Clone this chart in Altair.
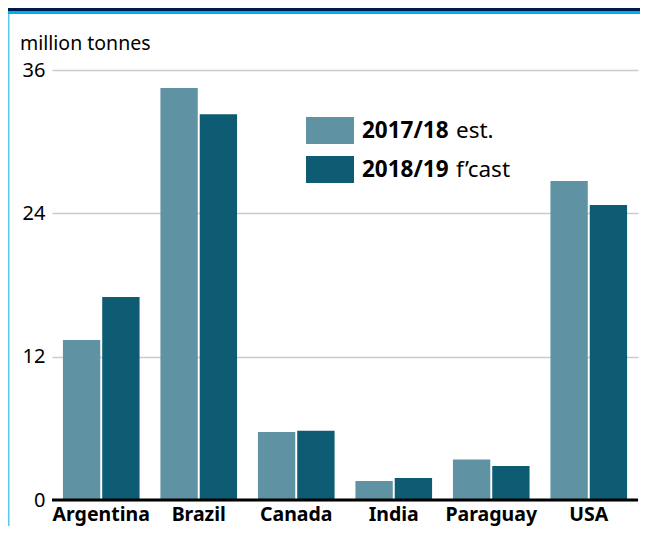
import altair as alt
import pandas as pd

countries = ["Argentina", "Brazil", "Canada", "India", "Paraguay", "USA"]
seasons = ["2017/18 est.", "2018/19 f’cast"]
v1718 = [13.4, 34.5, 5.7, 1.6, 3.4, 26.7]
v1819 = [17.0, 32.3, 5.8, 1.85, 2.85, 24.7]
y_ticks = [0, 12, 24, 36]
legend_bold = ["2017/18", "2018/19"]
legend_rest = ["est.", "f’cast"]
colors = ["#5f93a3", "#0d5c73"]
unit_label = "million tonnes"

FONT = "Noto Sans"
W, H = 586, 430
PAD = {"left": 44, "top": 62, "right": 2, "bottom": 26}

rows = []
for i, c in enumerate(countries):
    rows.append({"country": c, "season": seasons[0], "value": v1718[i]})
    rows.append({"country": c, "season": seasons[1], "value": v1819[i]})
df = pd.DataFrame(rows)

one = pd.DataFrame({"a": [0]})

x = alt.X(
    "country:N", sort=countries,
    scale=alt.Scale(paddingInner=0.214, paddingOuter=0.112),
    axis=alt.Axis(title=None, labelAngle=0, domain=False, ticks=False, labelPadding=5,
                  labelFont=FONT, labelFontWeight="bold", labelFontSize=19.5, labelColor="black"),
)
y = alt.Y(
    "value:Q", scale=alt.Scale(domain=[0, 36], nice=False),
    axis=alt.Axis(values=y_ticks, title=None, domain=False, ticks=False, grid=True,
                  gridColor="#cccccc", gridWidth=1.5, labelPadding=7, labelFontSize=20,
                  labelColor="black", labelFont=FONT),
)

bars = alt.Chart(df).mark_bar().encode(
    x=x,
    xOffset=alt.XOffset("season:N", sort=seasons, scale=alt.Scale(paddingInner=0.05)),
    y=y,
    color=alt.Color("season:N", scale=alt.Scale(domain=seasons, range=colors), legend=None),
)

baseline = alt.Chart(pd.DataFrame({"y": [0]})).mark_rule(color="black", strokeWidth=3).encode(y="y:Q")

layers = [bars, baseline]

# frame decoration
layers.append(alt.Chart(one).mark_rect(color="#001a4d").encode(
    x=alt.value(-PAD["left"]), x2=alt.value(W + PAD["right"]), y=alt.value(-PAD["top"]), y2=alt.value(-PAD["top"] + 3)))
layers.append(alt.Chart(one).mark_rect(color="#00aeef").encode(
    x=alt.value(-PAD["left"]), x2=alt.value(W + PAD["right"]), y=alt.value(-PAD["top"] + 3), y2=alt.value(-PAD["top"] + 6)))
layers.append(alt.Chart(one).mark_rect(color="#5bc8f0").encode(
    x=alt.value(-PAD["left"]), x2=alt.value(-PAD["left"] + 1.5), y=alt.value(-PAD["top"] + 6), y2=alt.value(H + PAD["bottom"])))

# unit label
layers.append(alt.Chart(one).mark_text(text=unit_label, align="left", baseline="alphabetic",
                                       font=FONT, fontSize=19.5, color="black").encode(
    x=alt.value(-32), y=alt.value(-20)))

# manual legend
for i in range(2):
    top = 47 + i * 39
    layers.append(alt.Chart(one).mark_rect(color=colors[i]).encode(
        x=alt.value(254), x2=alt.value(302), y=alt.value(top), y2=alt.value(top + 27)))
    layers.append(alt.Chart(one).mark_text(text=legend_bold[i], align="left", baseline="middle",
                                           font=FONT, fontSize=22.5, fontWeight="bold", color="black").encode(
        x=alt.value(310), y=alt.value(top + 14)))
    layers.append(alt.Chart(one).mark_text(text=legend_rest[i], align="left", baseline="middle",
                                           font=FONT, fontSize=22.5, color="black").encode(
        x=alt.value(404), y=alt.value(top + 14)))

chart = alt.layer(*layers).properties(
    width=W, height=H, padding=PAD, autosize=alt.AutoSizeParams(type="none"), background="white"
).configure_view(strokeWidth=0)

chart.save("out.html", embed_options={"renderer": "svg", "actions": False})
